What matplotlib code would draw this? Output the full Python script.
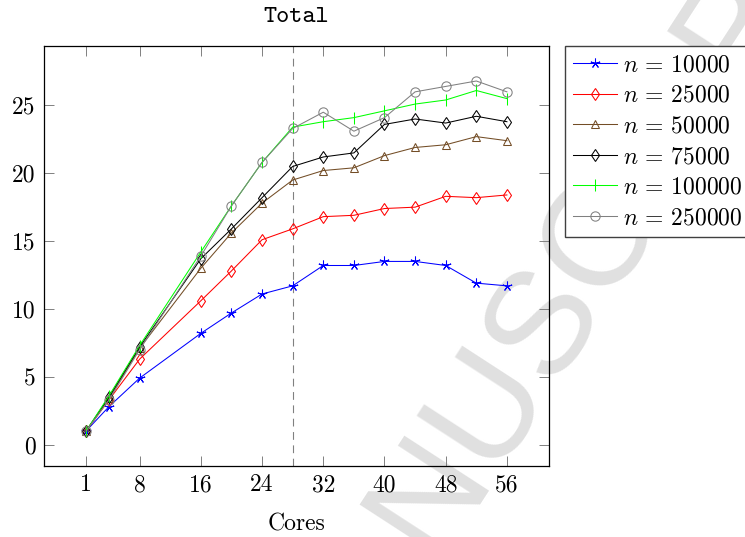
"""
Total speed-up vs number of cores, pgfplots-style line chart
"""

import matplotlib
matplotlib.use("Agg")
import matplotlib.pyplot as plt

# ─── Data ─────────────────────────────────────────────────────────────────────

CORES = [1, 4, 8, 16, 20, 24, 28, 32, 36, 40, 44, 48, 52, 56]

N_10000  = [1.0, 2.8, 4.9, 8.2, 9.7, 11.1, 11.7, 13.2, 13.2, 13.5, 13.5, 13.2, 11.9, 11.7]
N_25000  = [1.0, 3.3, 6.3, 10.6, 12.8, 15.1, 15.9, 16.8, 16.9, 17.4, 17.5, 18.3, 18.2, 18.4]
N_50000  = [1.0, 3.4, 7.1, 13.0, 15.6, 17.8, 19.5, 20.2, 20.4, 21.3, 21.9, 22.1, 22.7, 22.4]
N_75000  = [1.0, 3.5, 7.2, 13.7, 15.9, 18.2, 20.5, 21.2, 21.5, 23.6, 24.0, 23.7, 24.2, 23.8]
N_100000 = [1.0, 3.6, 7.3, 14.2, 17.6, 20.8, 23.4, 23.8, 24.1, 24.6, 25.1, 25.4, 26.1, 25.5]
N_250000 = [1.0, 3.3, 7.0, 13.9, 17.6, 20.8, 23.3, 24.5, 23.1, 24.1, 26.0, 26.4, 26.8, 26.0]

LABELS = [r"$n\,=\,10000$", r"$n\,=\,25000$", r"$n\,=\,50000$",
          r"$n\,=\,75000$", r"$n\,=\,100000$", r"$n\,=\,250000$"]

X_TICKS = [1, 8, 16, 24, 32, 40, 48, 56]
Y_TICKS = [0, 5, 10, 15, 20, 25]
SPLIT_AT = 28

# ─── Style ────────────────────────────────────────────────────────────────────

plt.rcParams['font.family'] = 'cmr10'
plt.rcParams['mathtext.fontset'] = 'cm'
plt.rcParams['axes.unicode_minus'] = False

FS = 17
STYLES = [
    dict(color='#0000ff', marker=(5, 2, 0), ms=7,   mfc='none'),
    dict(color='#ff0000', marker='d',       ms=6.5, mfc='none'),
    dict(color='#734d26', marker='^',       ms=6,   mfc='none'),
    dict(color='#000000', marker='d',       ms=6,   mfc='none'),
    dict(color='#00ff00', marker='|',       ms=8,   mfc='none'),
    dict(color='#808080', marker='o',       ms=6.7, mfc='none'),
]

# ─── Plot ─────────────────────────────────────────────────────────────────────

fig = plt.figure(figsize=(7.45, 5.37), dpi=100)
ax = fig.add_axes([44 / 745, 1 - 466 / 537, 505 / 745, 420 / 537])

series = [N_10000, N_25000, N_50000, N_75000, N_100000, N_250000]
for ys, label, st in zip(series, LABELS, STYLES):
    ax.plot(CORES, ys, label=label, lw=0.75, mew=0.75, **st)

ax.axvline(SPLIT_AT, color='#808080', lw=0.8, ls=(0, (7, 5)), zorder=1)

# watermark sits over the axes background but under the data
ax.text(0.432, -0.264, "ACCEPTED MANUSCRIPT", transform=fig.transFigure,
        rotation=57, rotation_mode='anchor', ha='center', va='center',
        fontsize=106, family='Liberation Sans',
        color='#e0e0e0', zorder=0.5, clip_on=False)

ax.set_xlim(-4.5, 61.5)
ax.set_ylim(-1.58, 29.38)
ax.set_xticks(X_TICKS)
ax.set_yticks(Y_TICKS)
ax.tick_params(direction='in', length=7, width=0.7, color='#808080',
               top=True, right=True, labelsize=FS, pad=6)
for s in ax.spines.values():
    s.set_linewidth(0.9)

ax.set_xlabel("Cores", fontsize=FS, labelpad=12)
ax.set_title("Total", fontsize=18, family='cmtt10', pad=17)

leg = ax.legend(loc='upper left', bbox_to_anchor=(1.032, 1.0), borderaxespad=0,
                fontsize=FS, numpoints=1, handlelength=1.86, handletextpad=0.25,
                labelspacing=0.36, borderpad=0.34, fancybox=False,
                framealpha=1, edgecolor='#404040')
leg.get_frame().set_linewidth(1.0)

fig.savefig("out.png", dpi=100)
